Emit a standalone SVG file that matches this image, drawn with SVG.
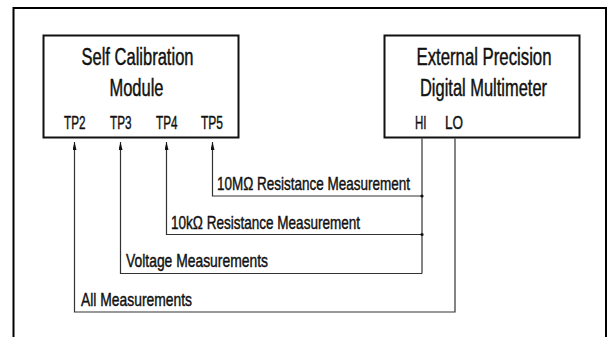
<svg xmlns="http://www.w3.org/2000/svg" width="613" height="337" viewBox="0 0 613 337">
<defs>
<style>
.frame{fill:none;stroke:#000;stroke-width:2}
.box{fill:#fff;stroke:#111;stroke-width:2}
.t{font-family:"Liberation Sans",Arial,sans-serif;fill:#111;stroke:#111;stroke-width:0.45}
.title{font-size:23px}
.lbl{font-size:19px}
.wire{fill:none;stroke:#333;stroke-width:1.2}
.dot{fill:#111}
</style>
<marker id="ah" viewBox="0 0 8 4" refX="8" refY="2" markerWidth="8" markerHeight="4" markerUnits="userSpaceOnUse" orient="auto">
<path d="M0,0 L8,2 L0,4 Z" fill="#111"/>
</marker>
</defs>
<rect width="613" height="337" fill="#fff"/>
<path class="frame" d="M13.5,337 V8 H606 V337"/>

<g id="self-calibration-module">
<rect class="box" x="43.5" y="35.5" width="195" height="102"/>
<text class="t title" x="81.5" y="65" textLength="112" lengthAdjust="spacingAndGlyphs">Self Calibration</text>
<text class="t title" x="109.5" y="96" textLength="54" lengthAdjust="spacingAndGlyphs">Module</text>
<text class="t lbl" x="64" y="129" textLength="21.5" lengthAdjust="spacingAndGlyphs">TP2</text>
<text class="t lbl" x="110" y="129" textLength="21.5" lengthAdjust="spacingAndGlyphs">TP3</text>
<text class="t lbl" x="156" y="129" textLength="21.5" lengthAdjust="spacingAndGlyphs">TP4</text>
<text class="t lbl" x="201" y="129" textLength="22" lengthAdjust="spacingAndGlyphs">TP5</text>
</g>

<g id="external-dmm">
<rect class="box" x="384.5" y="35.5" width="195" height="102"/>
<text class="t title" x="416.5" y="65" textLength="135" lengthAdjust="spacingAndGlyphs">External Precision</text>
<text class="t title" x="420" y="96" textLength="127" lengthAdjust="spacingAndGlyphs">Digital Multimeter</text>
<text class="t lbl" x="415" y="129" textLength="11.5" lengthAdjust="spacingAndGlyphs">HI</text>
<text class="t lbl" x="445" y="129" textLength="18" lengthAdjust="spacingAndGlyphs">LO</text>
</g>

<g id="connectors">
<path class="wire" d="M422,138.5 V273.5"/>
<path class="wire" marker-end="url(#ah)" d="M422,196 H212.5 V142"/>
<path class="wire" marker-end="url(#ah)" d="M422,234.5 H166.5 V142"/>
<path class="wire" marker-end="url(#ah)" d="M422,273.5 H120.5 V142"/>
<path class="wire" marker-end="url(#ah)" d="M455,138.5 V312 H74.5 V142"/>
<circle class="dot" cx="422" cy="196" r="1.6"/>
<circle class="dot" cx="422" cy="234.5" r="1.6"/>
<text class="t lbl" x="217" y="190" textLength="193" lengthAdjust="spacingAndGlyphs">10MΩ Resistance Measurement</text>
<text class="t lbl" x="171" y="229" textLength="189" lengthAdjust="spacingAndGlyphs">10kΩ Resistance Measurement</text>
<text class="t lbl" x="126" y="267" textLength="142" lengthAdjust="spacingAndGlyphs">Voltage Measurements</text>
<text class="t lbl" x="81" y="306" textLength="111" lengthAdjust="spacingAndGlyphs">All Measurements</text>
</g>
</svg>
